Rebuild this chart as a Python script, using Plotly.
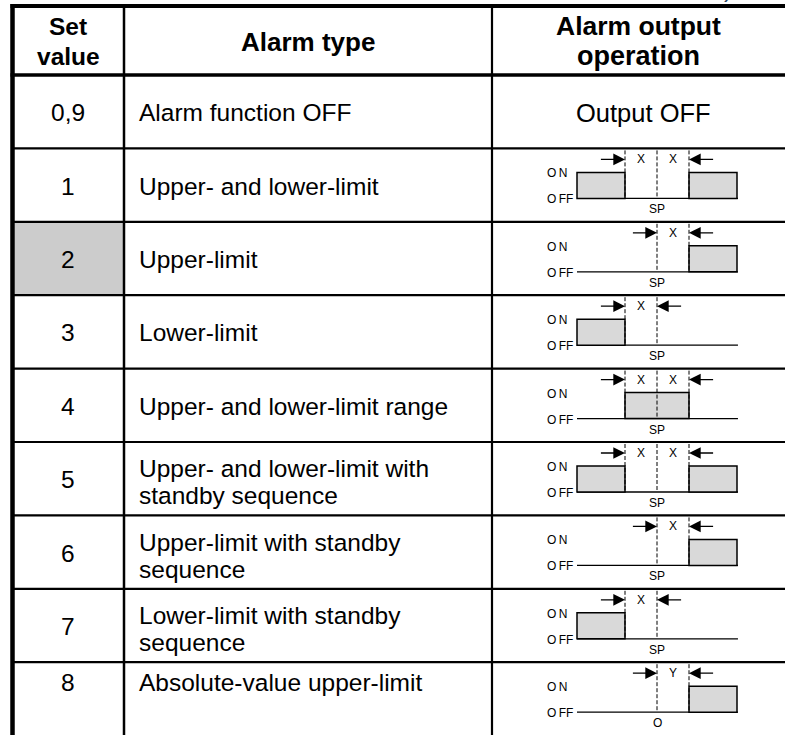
import plotly.graph_objects as go

# ---------------- data ----------------
set_values = ["0,9", "1", "2", "3", "4", "5", "6", "7", "8"]
alarm_types = [
    "Alarm function OFF",
    "Upper- and lower-limit",
    "Upper-limit",
    "Lower-limit",
    "Upper- and lower-limit range",
    "Upper- and lower-limit with\nstandby sequence",
    "Upper-limit with standby\nsequence",
    "Lower-limit with standby\nsequence",
    "Absolute-value upper-limit",
]
output_kinds = ["TEXT", "HL", "H", "L", "BAND", "HL", "H", "L", "ABS"]
output_text = "Output OFF"
header_labels = [["Set", "value"], ["Alarm type"], ["Alarm output", "operation"]]
highlight_value = "2"

# diagram specs in units where SP = 0 and X = 1
op_on = {"HL": [(-2.5, -1), (1, 2.5)], "H": [(1, 2.5)], "L": [(-2.5, -1)],
         "BAND": [(-1, 1)], "ABS": [(1, 2.5)]}
op_dashes = {"HL": [-1, 0, 1], "H": [0, 1], "L": [-1, 0], "BAND": [-1, 0, 1], "ABS": [0, 1]}
op_gaps = {"HL": [-0.5, 0.5], "H": [0.5], "L": [-0.5], "BAND": [-0.5, 0.5], "ABS": [0.5]}
op_arrows = {"HL": [(-1.8, -1), (1.8, 1)], "H": [(-0.8, 0), (1.8, 1)], "L": [(-1.8, -1), (0.8, 0)],
             "BAND": [(-1.8, -1), (1.8, 1)], "ABS": [(-0.8, 0), (1.8, 1)]}
op_gap_text = {"HL": "X", "H": "X", "L": "X", "BAND": "X", "ABS": "Y"}
op_ref_text = {"HL": "SP", "H": "SP", "L": "SP", "BAND": "SP", "ABS": "O"}

# ---------------- layout geometry ----------------
W, H = 785, 735
LEFT, COL1, COL2 = 12.5, 124, 492
TOP, HEAD_BOTTOM, ROW_H = 6, 75, 73.4
FONT = "Arial, 'Liberation Sans', sans-serif"
BODY = 24.5
SMALL = 12
SP_X, UNIT = 657, 32


def ux(u):
    return SP_X + UNIT * u


shapes = []
ann = []

def line(x0, y0, x1, y1, w=2, dash=None, color="black"):
    d = dict(type="line", x0=x0, y0=y0, x1=x1, y1=y1, xref="x", yref="y",
             line=dict(color=color, width=w))
    if dash:
        d["line"]["dash"] = dash
    shapes.append(d)

def text(x, y, s, size=BODY, bold=False, xanchor="center"):
    ann.append(dict(x=x, y=y, xref="x", yref="y", text=s, showarrow=False,
                    xanchor=xanchor, yanchor="middle", align="center",
                    font=dict(family=FONT, size=size, color="black",
                              weight="bold" if bold else "normal")))

n = len(set_values)
row_tops = [HEAD_BOTTOM + i * ROW_H for i in range(n)]

# highlighted cell
for i, v in enumerate(set_values):
    if v == highlight_value:
        shapes.append(dict(type="rect", x0=LEFT + 2, x1=COL1 - 1, y0=row_tops[i] + 1,
                           y1=row_tops[i] + ROW_H - 1, xref="x", yref="y",
                           fillcolor="#cccccc", line=dict(width=0), layer="below"))

# grid
line(LEFT - 2, TOP, W, TOP, w=4)
line(LEFT - 2, HEAD_BOTTOM, W, HEAD_BOTTOM, w=3.5)
for t in row_tops[1:]:
    line(LEFT, t, W, t, w=2.2)
line(LEFT, TOP - 2, LEFT, H, w=4.5)
line(COL1, TOP, COL1, H, w=2.5)
line(COL2, TOP, COL2, H, w=2.2)

# stray cut-off glyph at the very top
ann.append(dict(x=728, y=4, xref="x", yref="y", text=")", showarrow=False,
                xanchor="center", yanchor="bottom", font=dict(family=FONT, size=BODY)))

# headers (one annotation per line)
text((LEFT + COL1) / 2, 26, header_labels[0][0], size=24.5, bold=True)
text((LEFT + COL1) / 2, 56, header_labels[0][1], size=24.5, bold=True)
text((COL1 + COL2) / 2, 42, header_labels[1][0], size=26, bold=True)
text((COL2 + W) / 2, 26, header_labels[2][0], size=26.5, bold=True)
text((COL2 + W) / 2, 56, header_labels[2][1], size=27, bold=True)

# rows
for i in range(n):
    t = row_tops[i]
    cy = t + ROW_H / 2 + 1
    if set_values[i] == "8":
        cy = t + 20
    text((LEFT + COL1) / 2, cy, set_values[i])
    lines = alarm_types[i].split("\n")
    if len(lines) == 1:
        text(137, cy, lines[0], xanchor="left")
    else:
        text(137, cy - 11, lines[0], xanchor="left")
        text(137, cy + 16, lines[1], xanchor="left")

    kind = output_kinds[i]
    if kind == "TEXT":
        text(643, cy, output_text, size=25.5)
        continue
    ay = t + 11
    btop = t + 24
    base = t + 50
    # baseline
    line(ux(-2.5), base, ux(2.53), base, w=1.3)
    # on boxes
    for a, b in op_on[kind]:
        shapes.append(dict(type="rect", x0=ux(a), x1=ux(b), y0=btop, y1=base,
                           xref="x", yref="y", fillcolor="#d9d9d9",
                           line=dict(color="black", width=1.5)))
    # dashed markers
    for u in op_dashes[kind]:
        line(ux(u), t + 2, ux(u), base, w=1, dash="4px,2px")
    # gap labels
    for u in op_gaps[kind]:
        text(ux(u), ay, op_gap_text[kind], size=SMALL)
    # arrows
    for tail, head in op_arrows[kind]:
        ann.append(dict(x=ux(head), y=ay, ax=ux(tail), ay=ay, xref="x", yref="y",
                        axref="x", ayref="y", text="", showarrow=True, arrowhead=2,
                        arrowsize=1.8, arrowwidth=1.3, arrowcolor="black", standoff=0,
                        startstandoff=0))
    # ON / OFF labels
    text(545, btop + 1, "O\u2009N", size=SMALL, xanchor="left")
    text(545, base + 1, "O\u2009FF", size=SMALL, xanchor="left")
    text(ux(0), base + 11, op_ref_text[kind], size=SMALL)

fig = go.Figure()
fig.update_layout(
    width=W, height=H, margin=dict(l=0, r=0, t=0, b=0),
    paper_bgcolor="white", plot_bgcolor="white",
    xaxis=dict(range=[0, W], visible=False, fixedrange=True),
    yaxis=dict(range=[H, 0], visible=False, fixedrange=True),
    shapes=shapes, annotations=ann, showlegend=False,
)
fig.write_html("out.html", config={"displayModeBar": False},
               post_script="document.body.style.margin='0';document.body.style.overflow='hidden';")
